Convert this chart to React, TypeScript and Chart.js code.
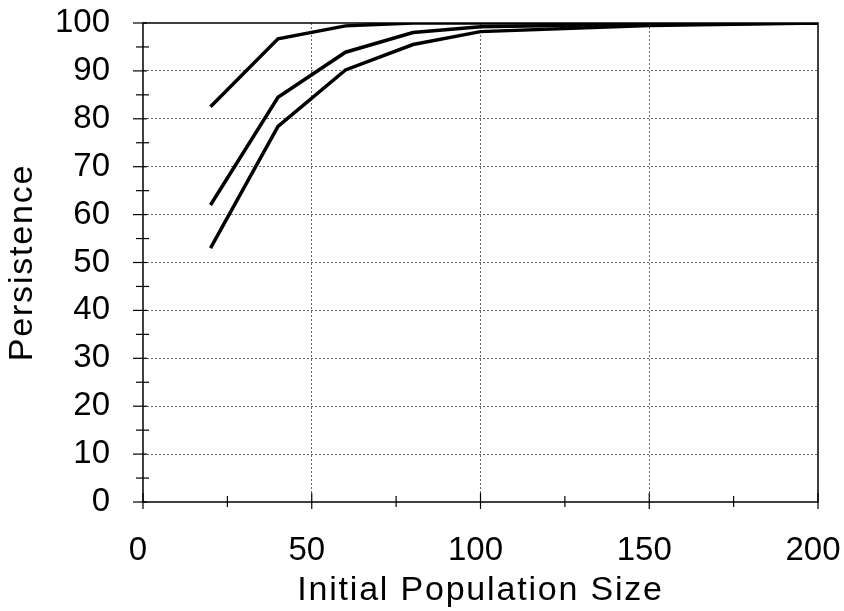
import React, { useEffect, useRef } from "react";
import { Chart, registerables } from "chart.js";

Chart.register(...registerables);

const xValues = [20, 40, 60, 80, 100, 150, 200];
const seriesA = [82.5, 96.7, 99.4, 100, 100, 100, 100];
const seriesB = [62.0, 84.5, 93.9, 98.0, 99.2, 99.8, 100];
const seriesC = [53.0, 78.4, 90.2, 95.5, 98.2, 99.5, 100];
const xTitle = "Initial Population Size";
const yTitle = "Persistence";

const FONT = "'Liberation Sans', Arial, sans-serif";

// Widen axis-title lettering (reference titles are set wide)
const titleSpacing = {
  id: "titleSpacing",
  beforeDraw(chart: any) {
    Object.values(chart.scales).forEach((s: any) => {
      if (s.__wrapped) return;
      const orig = s.drawTitle;
      s.drawTitle = function (...args: any[]) {
        const ctx = this.ctx;
        const prev = ctx.letterSpacing;
        ctx.letterSpacing = "1.8px";
        orig.apply(this, args);
        ctx.letterSpacing = prev || "0px";
      };
      s.__wrapped = true;
    });
  },
};

const frameTicks = {
  id: "frameTicks",
  afterDatasetsDraw(chart: any) {
    const { ctx, chartArea, scales } = chart;
    const { left, right, top, bottom } = chartArea;
    ctx.save();
    ctx.strokeStyle = "#000";
    ctx.lineWidth = 1.5;
    ctx.beginPath();
    ctx.rect(left, top, right - left, bottom - top);
    ctx.stroke();
    ctx.lineWidth = 1.2;
    scales.y.ticks.forEach((t: any) => {
      const p = scales.y.getPixelForValue(t.value);
      const major = t.value % 10 === 0;
      ctx.beginPath();
      ctx.moveTo(left - (major ? 10 : 7), p);
      ctx.lineTo(left + (major ? 4 : 6), p);
      ctx.stroke();
    });
    scales.x.ticks.forEach((t: any) => {
      const p = scales.x.getPixelForValue(t.value);
      const major = t.value % 50 === 0;
      ctx.beginPath();
      ctx.moveTo(p, bottom - (major ? 9 : 6));
      ctx.lineTo(p, bottom + (major ? 7 : 5));
      ctx.stroke();
    });
    ctx.restore();
  },
};

export default function App() {
  const ref = useRef<HTMLCanvasElement>(null);
  useEffect(() => {
    const mk = (d: number[]) => ({
      data: xValues.map((x, i) => ({ x, y: d[i] })),
      borderColor: "#000",
      borderWidth: 3.5,
      pointRadius: 0,
      fill: false,
      tension: 0,
    });
    const chart = new Chart(ref.current!, {
      type: "line",
      data: { datasets: [mk(seriesA), mk(seriesB), mk(seriesC)] as any },
      plugins: [titleSpacing, frameTicks],
      options: {
        animation: false,
        responsive: false,
        layout: { padding: { top: 23, right: 26, left: 0, bottom: 0 } },
        plugins: { legend: { display: false }, tooltip: { enabled: false } },
        scales: {
          x: {
            type: "linear",
            min: 0,
            max: 200,
            afterFit: (s: any) => {
              s.height = 109;
              s.paddingLeft = 0;
              s.paddingRight = 0;
            },
            ticks: {
              stepSize: 25,
              autoSkip: false,
              maxRotation: 0,
              padding: 29,
              labelOffset: -5,
              color: "#000",
              font: { family: FONT, size: 33 },
              callback: (v: any) => (v % 50 === 0 ? String(v) : ""),
            },
            grid: {
              drawTicks: false,
              lineWidth: 1,
              color: (c: any) => {
                const v = c.tick ? c.tick.value : 0;
                return v % 50 === 0 && v !== 0 && v !== 200 ? "#666" : "rgba(0,0,0,0)";
              },
            },
            border: { display: false, dash: [2, 2] },
            title: {
              display: true,
              text: xTitle,
              color: "#000",
              font: { family: FONT, size: 34 },
              padding: { top: 0, bottom: 0 },
            },
          },
          y: {
            min: 0,
            max: 100,
            afterFit: (s: any) => {
              s.width = 143;
              s.paddingTop = 0;
              s.paddingBottom = 0;
            },
            ticks: {
              stepSize: 5,
              autoSkip: false,
              padding: 33,
              color: "#000",
              font: { family: FONT, size: 33 },
              callback: (v: any) => (v % 10 === 0 ? String(v) : ""),
            },
            grid: {
              drawTicks: false,
              lineWidth: 1,
              color: (c: any) => {
                const v = c.tick ? c.tick.value : 0;
                return v % 10 === 0 && v !== 0 && v !== 100 ? "#666" : "rgba(0,0,0,0)";
              },
            },
            border: { display: false, dash: [2, 2] },
            title: {
              display: true,
              text: yTitle,
              color: "#000",
              font: { family: FONT, size: 34 },
              padding: { top: 2, bottom: 0 },
            },
          },
        },
      },
    });
    return () => chart.destroy();
  }, []);
  return (
    <div style={{ position: "fixed", left: 0, top: 0, width: 844, height: 611, background: "#fff" }}>
      <canvas ref={ref} width={844} height={611} style={{ display: "block" }} />
    </div>
  );
}
